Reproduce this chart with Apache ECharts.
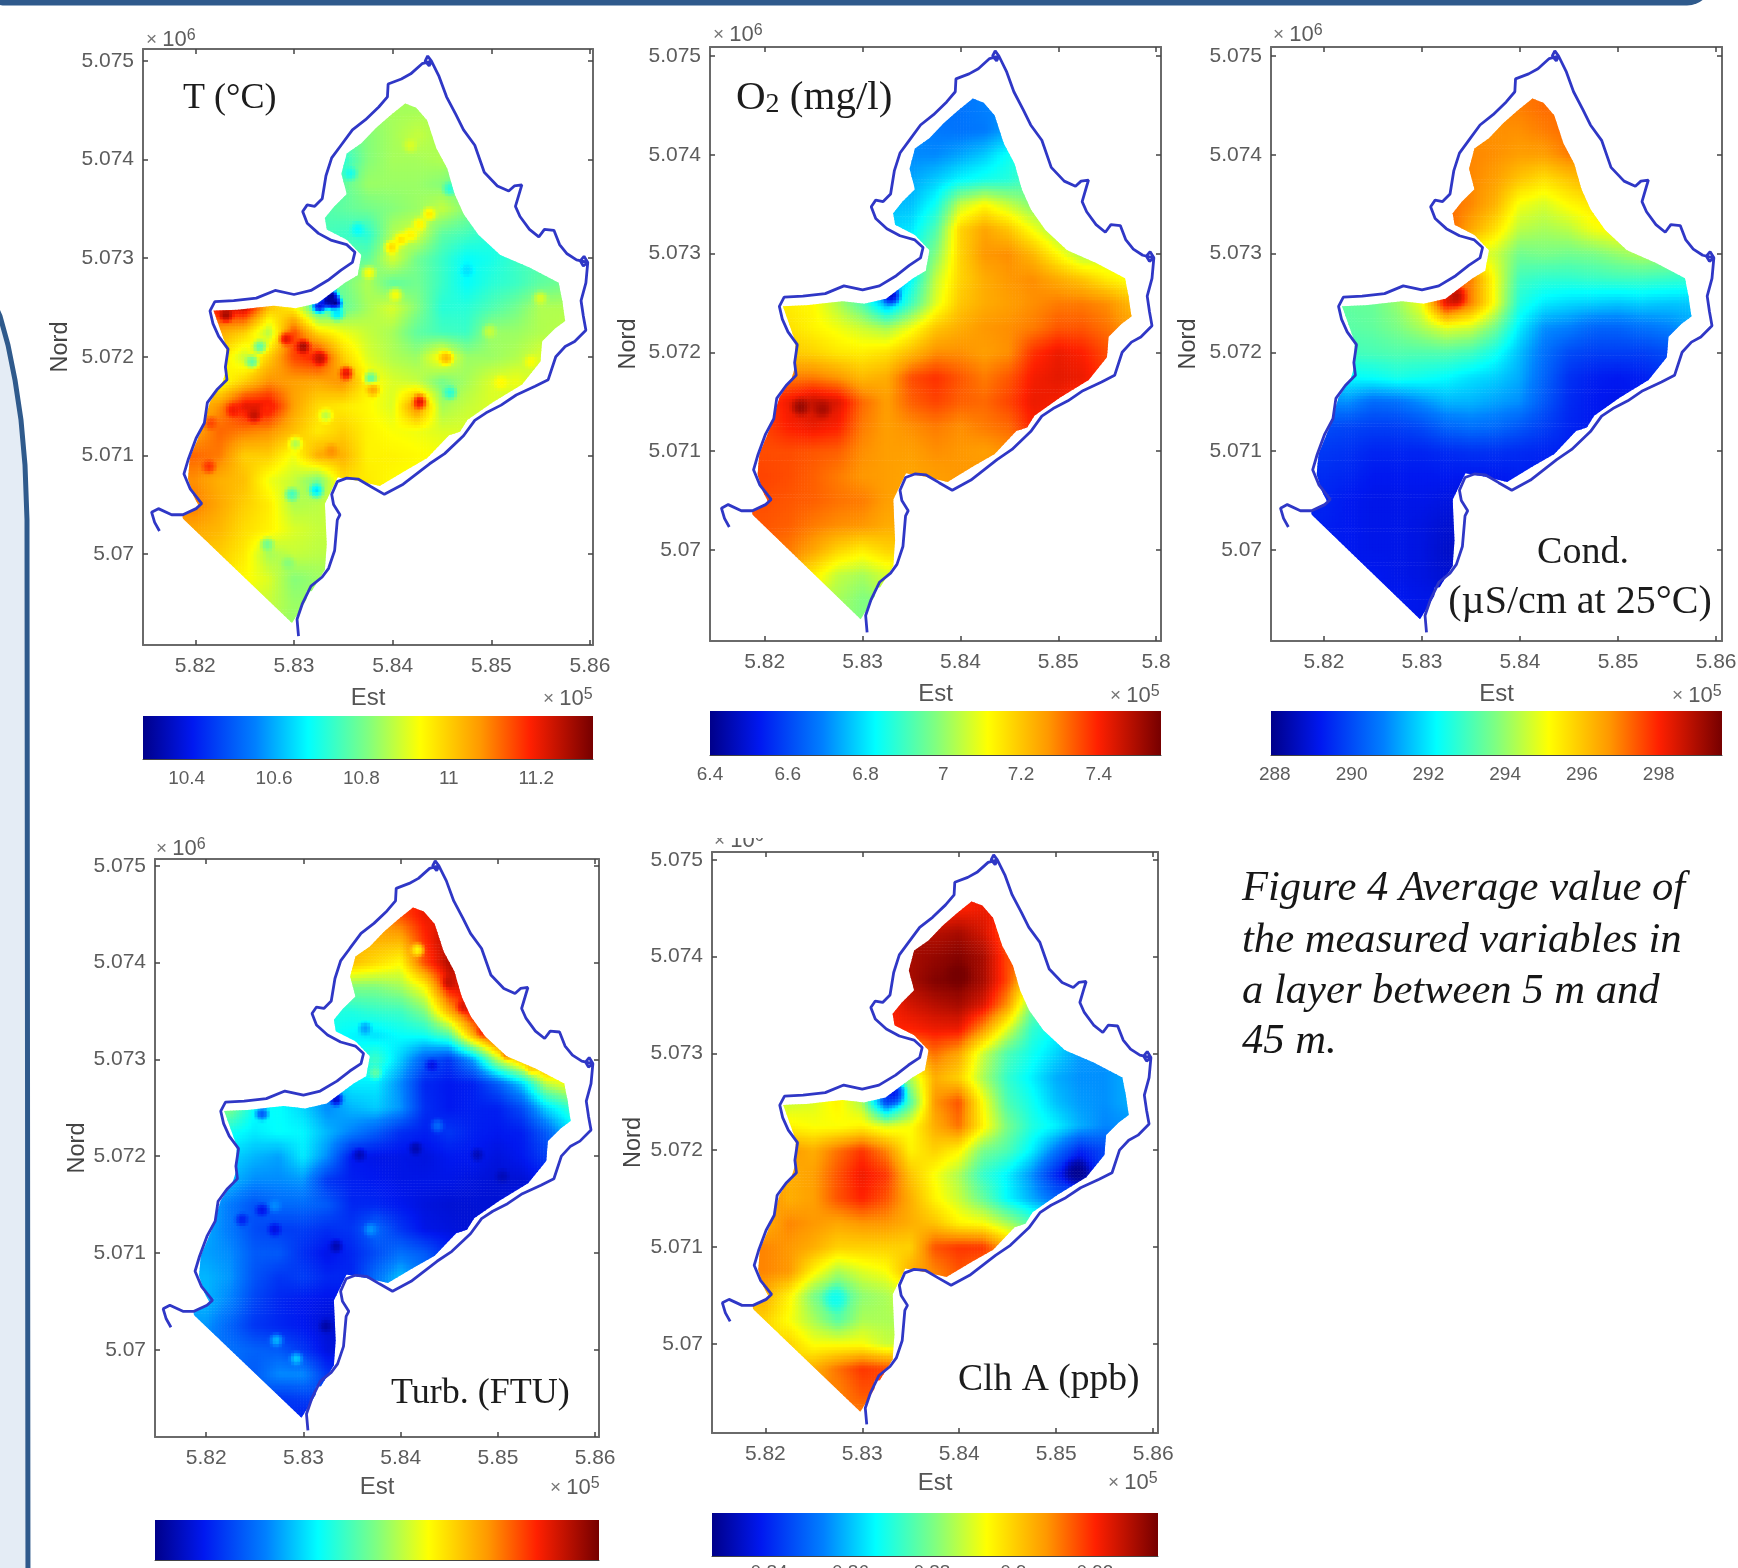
<!DOCTYPE html>
<html><head><meta charset="utf-8">
<style>html,body{margin:0;padding:0;background:#fff}#c{width:1738px;height:1568px;filter:blur(0.6px)}</style>
<script src="https://cdn.jsdelivr.net/npm/echarts@6/dist/echarts.min.js"></script>
</head><body><div id="c"></div>
<script>
// Offsets in metres from these bases
const eastBase = 580000, northBase = 5070000;
const cellStep = 250;

// Lake shoreline (offset metres)
const boundaryEast = [3046,3031,3084,3172,3286,3351,3412,3439,3466,3401,3382,3439,3534,3649,3782,3916,4107,4374,4527,4718,4832,4947,5099,5252,5443,5576,5653,5748,5844,5958,5932,5909,5958,5977,5939,5901,5932,5977,5863,5767,5691,5634,5538,5481,5386,5290,5244,5290,5309,5233,5176,5061,4928,4832,4718,4641,4546,4470,4393,4355,4329,4370,4393,4298,4183,4088,3954,3947,3859,3725,3592,3477,3382,3324,3286,3210,3134,3088,3134,3248,3382,3534,3618,3592,3477,3344,3172,3000,2809,2618,2389,2198,2149,2179,2237,2332,2305,2321,2218,2122,2092,2008,1931,1885,1950,2065,2008,1874,1760,1626,1557,1588,1637];
const boundaryNorth = [-832,-662,-507,-326,-233,-145,36,346,398,501,605,734,770,760,682,605,708,915,1018,1199,1355,1432,1510,1613,1701,1768,2001,2104,2156,2270,2414,2569,2750,2957,3019,2973,2921,2957,2983,3045,3138,3283,3293,3216,3293,3423,3526,3681,3743,3733,3681,3733,3872,4146,4301,4457,4637,4844,4999,5051,4999,4950,4999,4973,4870,4818,4767,4637,4534,4405,4301,4146,4017,3836,3603,3526,3541,3474,3355,3252,3180,3138,3061,2957,2880,2776,2673,2632,2673,2595,2569,2559,2466,2337,2208,2078,1897,1768,1665,1535,1329,1174,967,812,657,512,460,398,398,460,424,321,233];

// Outline of the interpolated area (offset metres)
const areaEast = [2980,3313,3332,3313,3443,3646,3868,4127,4350,4571,4682,4756,5015,5311,5497,5515,5645,5748,5718,5682,5386,5090,4868,4720,4627,4553,4442,4350,4238,4127,3979,3831,3683,3535,3480,3535,3406,3313,3332,3535,3683,3646,3517,3240,3017,2796,2425,2185,2240,2314,2314,2278,2148,2074,1945,1926,1982,2037,1852];
const areaNorth = [-700,-160,98,510,778,742,690,845,973,1205,1241,1360,1540,1720,1952,2158,2287,2364,2570,2750,2905,3033,3239,3445,3651,3909,4115,4398,4527,4568,4450,4320,4166,4063,3857,3651,3523,3409,3291,3188,3033,2827,2750,2544,2493,2518,2478,2467,2312,2106,1875,1746,1540,1282,973,767,587,484,381];

// Reading grid: one row per northing, first easting of the row
const gridNorth = [4500,4250,4000,3750,3500,3250,3000,2750,2500,2250,2000,1750,1500,1250,1000,750,500,250,0,-250,-500,-750];
const gridEastStart = [3750,3500,3500,3500,3250,3250,3500,3250,2250,2250,2250,2250,2000,2000,2000,2000,2000,2000,2250,2500,2750,3000];

const tempRows = [
[10.83,10.85,10.85],
[10.78,10.82,10.85,10.88,10.85],
[10.72,10.82,10.85,10.85,10.86],
[10.78,10.84,10.84,10.84,10.82,10.78],
[10.76,10.78,10.8,10.82,10.84,10.88,10.82],
[10.76,10.74,10.72,10.86,10.9,10.78,10.75,10.72],
[10.78,10.78,10.9,10.8,10.74,10.68,10.7,10.74,10.76],
[10.82,10.8,10.86,10.78,10.8,10.74,10.68,10.72,10.74,10.78,10.8],
[11.2,11.25,11.02,10.95,10.72,10.78,10.85,10.9,10.82,10.72,10.72,10.76,10.8,10.86,10.86],
[11.05,11.0,10.86,11.15,10.98,10.92,10.88,10.85,10.78,10.75,10.74,10.84,10.84,10.86,10.87],
[10.98,10.88,11.0,11.15,11.2,11.0,10.9,10.86,10.84,10.95,10.84,10.84,10.86,10.9],
[10.92,11.0,11.08,11.06,11.05,11.08,10.95,10.9,10.88,10.8,10.85,10.9,10.92,10.88],
[11.0,11.08,11.22,11.22,11.06,10.98,10.96,10.94,10.9,11.1,10.85,10.88,10.9,10.88],
[11.05,11.12,11.1,11.08,11.02,10.96,11.0,10.95,10.93,10.92,10.9,10.9,10.88],
[11.12,11.1,11.0,11.0,10.92,11.05,11.04,10.95,10.95,10.94,10.93,10.92],
[11.08,11.04,11.02,10.92,10.88,10.8,10.98,10.96,10.94,10.93],
[11.1,11.05,11.0,10.96,10.86,10.87,10.9],
[11.05,11.03,10.98,10.95,10.9,10.88],
[11.0,10.96,10.85,10.88,10.87],
[10.94,10.9,10.82,10.84],
[10.88,10.84],
[10.84]];
const tempSpots = [[3260,2520,10.4],[3380,2620,10.3],[3344,2570,10.32],[3420,2544,10.3],[3439,2440,10.65],[3992,3112,10.98],[4088,3190,10.97],[4183,3241,10.95],[4279,3345,10.95],[4374,3448,10.96],[3763,2854,10.93],[4031,2632,10.93],[4546,1990,11.03],[4279,1546,11.22],[5500,2595,10.9],[5405,1949,10.93],[5099,1742,10.94],[4985,2259,10.88],[4756,2880,10.65],[4584,1639,10.72],[3782,1784,10.78],[3229,646,10.65],[2981,605,10.75],[2657,2104,10.78],[2580,1949,10.78],[2733,98,10.8],[2943,-93,10.82],[3572,3862,10.7],[3649,3293,10.68],[4584,3707,10.72],[2924,2182,11.22],[3096,2104,11.28],[3268,1985,11.25],[3534,1835,11.22],[3803,1665,11.05],[2389,1458,11.2],[2600,1406,11.25],[2733,1484,11.18],[2141,889,11.17],[2160,1329,11.15],[3382,1044,11.08],[2313,2425,11.28],[3019,1122,10.86],[3325,1406,10.87],[4183,4146,10.9]];

const oxyRows = [
[6.66,6.67,6.69],
[6.7,6.68,6.67,6.68,6.73],
[6.7,6.7,6.73,6.77,6.84],
[6.73,6.77,6.82,6.85,6.87,6.92],
[6.75,6.76,6.84,7.05,7.12,7.05,6.98],
[6.78,6.8,6.92,7.18,7.25,7.2,7.1,7.0],
[6.85,6.98,7.18,7.27,7.28,7.22,7.12,7.02,7.04],
[6.68,6.82,7.05,7.18,7.24,7.27,7.28,7.24,7.2,7.14,7.1],
[7.14,7.12,7.03,6.92,6.72,6.9,7.08,7.2,7.24,7.26,7.28,7.3,7.3,7.28,7.22],
[7.16,7.13,7.1,7.06,7.02,7.1,7.2,7.24,7.27,7.28,7.3,7.34,7.34,7.31,7.26],
[7.2,7.18,7.15,7.14,7.16,7.22,7.28,7.28,7.26,7.28,7.38,7.42,7.4,7.35],
[7.3,7.3,7.27,7.22,7.24,7.35,7.38,7.34,7.3,7.34,7.41,7.43,7.42,7.37],
[7.35,7.42,7.47,7.44,7.32,7.26,7.33,7.36,7.33,7.32,7.36,7.42,7.41,7.37],
[7.36,7.4,7.42,7.4,7.3,7.26,7.28,7.3,7.28,7.3,7.32,7.4,7.38],
[7.35,7.35,7.34,7.33,7.28,7.26,7.26,7.28,7.27,7.26,7.28,7.3],
[7.36,7.35,7.33,7.3,7.27,7.26,7.25,7.26,7.27,7.27],
[7.35,7.34,7.33,7.31,7.3,7.26,7.25],
[7.34,7.33,7.3,7.28,7.27,7.24],
[7.3,7.25,7.18,7.14,7.18],
[7.14,7.05,7.02,7.07],
[7.02,6.98],
[6.98]];
const oxySpots = [[3295,2580,6.48],[2370,1447,7.52],[2592,1426,7.5]];

const condRows = [
[296.9,297.0,297.2],
[296.8,296.8,296.8,297.0,297.2],
[296.9,296.8,296.6,296.6,297.0],
[296.9,296.6,296.0,295.6,296.0,296.4],
[297.2,296.9,296.3,295.0,294.7,295.2,295.5],
[297.4,296.5,295.6,294.4,294.2,294.4,295,295.3],
[295,294.6,293.6,293.7,293.6,293.7,294,294.3,294.2],
[297,297,295,293,292.8,292.8,292.9,293,293,292.9,292.8],
[293.4,293.5,294,295,298.4,297,295,292.6,292,291.8,291.7,291.6,291.7,291.6,291.6],
[293.3,293.4,293.7,294.2,294.8,294.6,293.6,292,291,290.8,290.4,290.4,290.6,290.8,291.2],
[293,293.1,293.2,293.2,293.2,293,292.4,291.5,290.6,290,289.8,289.8,289.8,290],
[292.2,292.3,292.5,292.4,292.2,291.9,291.7,291.3,290.4,289.6,289.3,289.2,289.3,289.6],
[291,291,290.5,290.6,291,291.4,291.4,291.2,291,290.2,289.5,289.2,289.1,289.2],
[290,289.9,289.8,289.8,290,290.4,290.6,290.5,290.2,289.8,289.4,289.2,289.2],
[289.7,289.6,289.4,289.4,289.4,289.5,289.6,289.6,289.5,289.4,289.3,289.2],
[289.5,289.4,289.2,289.2,289.2,289.2,289.2,289.2,289.3,289.2],
[289.4,289.2,289.1,289.1,289.1,289.0,288.9],
[289.3,289.2,289.1,289.1,289.0,288.8],
[289.2,289.1,289.1,289,288.7],
[289.2,289.1,289,288.8],
[289.2,289.1],
[289.1]];
const condSpots = [[3350,2570,298.8]];

// Turbidity: tick labels are cut off in the picture, so levels are read on a 0-1 colour bar
const turbRows = [
[.75,.82,.88],
[.72,.72,.72,.85,.94],
[.7,.66,.62,.82,.94],
[.5,.5,.53,.62,.88,.92],
[.4,.4,.42,.43,.5,.72,.9],
[.38,.36,.34,.37,.38,.45,.72,.9],
[.38,.43,.32,.2,.15,.28,.55,.72,.85],
[.3,.35,.35,.26,.13,.11,.12,.2,.32,.55,.62],
[.5,.37,.37,.33,.26,.3,.32,.27,.14,.11,.12,.12,.18,.33,.42],
[.38,.35,.37,.36,.3,.25,.2,.14,.12,.15,.12,.11,.12,.2,.33],
[.33,.3,.28,.35,.26,.11,.1,.1,.09,.11,.11,.09,.11,.16],
[.3,.26,.26,.27,.15,.12,.11,.1,.1,.1,.09,.08,.08,.11],
[.3,.24,.19,.22,.22,.2,.13,.13,.11,.09,.08,.08,.08,.1],
[.29,.24,.18,.16,.16,.14,.15,.22,.15,.1,.09,.08,.1],
[.28,.26,.2,.2,.14,.1,.13,.18,.23,.2,.13,.11],
[.3,.27,.19,.15,.16,.13,.13,.23,.31,.24],
[.3,.25,.17,.13,.11,.1,.1],
[.27,.21,.15,.13,.11,.08],
[.23,.21,.2,.15,.09],
[.2,.26,.26,.15],
[.15,.16],
[.11]];
const turbSpots = [[3339,2590,.06],[2577,2440,.2],[3637,3321,.28],[4158,2081,.04],[4790,2017,.05],[5050,1793,.05],[3581,2017,.05],[3339,1071,.04],[3235,249,.03],[2725,100,.3],[2930,-90,.32],[2707,1494,.26],[3693,1245,.27],[2707,1245,.09],[2577,1444,.1],[2372,1345,.12],[4176,4133,.62],[3742,2864,.46],[4325,2938,.09],[4381,2316,.22],[4500,3800,.92],[4650,3550,.9],[4850,3300,.86],[5100,3070,.8],[5350,2920,.68]];

const chlaRows = [
[.918,.92,.922],
[.93,.928,.93,.925,.914],
[.93,.932,.934,.93,.916],
[.93,.934,.935,.93,.916,.895],
[.92,.925,.928,.93,.924,.908,.88],
[.92,.92,.922,.922,.908,.89,.872,.866],
[.905,.912,.906,.888,.875,.868,.862,.856,.855],
[.87,.885,.905,.9,.885,.872,.865,.858,.855,.855,.858],
[.888,.89,.895,.885,.845,.875,.908,.915,.893,.875,.868,.86,.856,.855,.858],
[.895,.893,.893,.895,.89,.893,.905,.912,.895,.88,.87,.865,.858,.854,.855],
[.908,.905,.912,.918,.91,.895,.9,.895,.88,.875,.865,.852,.84,.845],
[.905,.907,.915,.922,.918,.902,.893,.885,.872,.865,.855,.84,.828,.845],
[.91,.905,.907,.915,.92,.915,.905,.895,.888,.878,.866,.858,.85,.85],
[.905,.91,.908,.906,.908,.908,.905,.902,.895,.893,.885,.875,.87],
[.91,.908,.905,.9,.9,.9,.9,.915,.918,.918,.905,.89],
[.91,.908,.895,.885,.89,.893,.905,.91,.915,.912],
[.905,.895,.88,.872,.882,.885,.89],
[.9,.893,.885,.876,.885,.885],
[.9,.893,.893,.893,.888],
[.905,.912,.918,.916],
[.91,.915],
[.91]];
const chlaSpots = [[3321,2599,.838],[5218,1780,.827],[2725,466,.868],[3990,3814,.9355]];

const eastTicks = [582000,583000,584000,585000,586000];
const northTicks = [5070000,5071000,5072000,5073000,5074000,5075000];
const tempTicks = [10.4,10.6,10.8,11,11.2];
const oxyTicks = [6.4,6.6,6.8,7,7.2,7.4];
const condTicks = [288,290,292,294,296,298];
const chlaTicks = [.84,.86,.88,.9,.92];

const jetStops = [[0,'#00008a'],[.11,'#0018f0'],[.25,'#0080ff'],[.367,'#00ffff'],[.5,'#80ff80'],[.616,'#ffff00'],[.75,'#ff9800'],[.86,'#ff2000'],[1,'#760000']];
function jet(t){
  t=Math.max(0,Math.min(1,t));
  for(let i=1;i<jetStops.length;i++){
    if(t<=jetStops[i][0]){
      const a=jetStops[i-1],b=jetStops[i];
      return echarts.color.lerp((t-a[0])/(b[0]-a[0]),[a[1],b[1]]);
    }
  }
  return jetStops[jetStops.length-1][1];
}

const SANS='"Liberation Sans",Arial,sans-serif', SERIF='"Liberation Serif",serif', GREY='#5c5c5c';

const panels = [
 {name:'T',rows:tempRows,spots:tempSpots,spotR:105,sub:8,range:[10.3,11.33],ticks:tempTicks,nordGap:70,estGap:41,barGap:10,
  g:[143,49,450,596],xr:[581470,586030],yr:[5069077,5075122],bar:[143,716,450,43],lastX:'5.86'},
 {name:'O2',rows:oxyRows,spots:oxySpots,spotR:130,sub:8,range:[6.4,7.56],ticks:oxyTicks,nordGap:69,estGap:41,barGap:10,
  g:[710,47,451,594],xr:[581440,586050],yr:[5069080,5075090],bar:[710,711,451,44],lastX:'5.8'},
 {name:'Cond',rows:condRows,spots:condSpots,spotR:150,sub:8,range:[287.9,299.65],ticks:condTicks,nordGap:70,estGap:41,barGap:10,
  g:[1271,47,451,594],xr:[581460,586060],yr:[5069080,5075090],bar:[1271,711,451,44],lastX:'5.86'},
 {name:'Turb',rows:turbRows,spots:turbSpots,spotR:100,sub:8,range:[0,1],ticks:[],nordGap:65,estGap:38,barGap:10,
  g:[155,859,444,578],xr:[581473,586040],yr:[5069100,5075070],bar:[155,1520,444,40],lastX:'5.86'},
 {name:'Chla',rows:chlaRows,spots:chlaSpots,spotR:180,sub:8,range:[.826,.9355],ticks:chlaTicks,nordGap:66,estGap:38,barGap:7,
  g:[712,852,446,581],xr:[581450,586050],yr:[5069080,5075080],bar:[712,1513,446,43],lastX:'5.86'}
];

function buildLookup(p){
  const m=new Map(); p.cells=[];
  p.rows.forEach((row,j)=>row.forEach((v,i)=>{
    const e=gridEastStart[j]+i*cellStep,n=gridNorth[j];
    m.set(e+'|'+n,v); p.cells.push([eastBase+e,northBase+n,v]);
  }));
  p.lookup=m;
}
function field(p,e,n){
  const i0=Math.floor(e/cellStep)*cellStep,j0=Math.floor(n/cellStep)*cellStep;
  const fx=(e-i0)/cellStep,fy=(n-j0)/cellStep;
  const corners=[[i0,j0,(1-fx)*(1-fy)],[i0+cellStep,j0,fx*(1-fy)],[i0,j0+cellStep,(1-fx)*fy],[i0+cellStep,j0+cellStep,fx*fy]];
  let s=0,w=0;
  corners.forEach(c=>{const v=p.lookup.get(c[0]+'|'+c[1]); if(v!==undefined){s+=v*c[2];w+=c[2];}});
  let val=w>0?s/w:null;
  if(val===null) return null;
  for(const sp of p.spots){
    const dx=sp[0]-e,dy=sp[1]-n,d2=(dx*dx+dy*dy)/(p.spotR*p.spotR);
    if(d2<1){const k=(1-d2)*(1-d2); val=val+(sp[2]-val)*k;}
  }
  return val;
}

const grids=[],xAxes=[],yAxes=[],series=[];
const axisLine={show:true,lineStyle:{color:'#6a6a6a',width:2}};
const tickStyle={color:'#444',width:1.5};
panels.forEach((p,idx)=>{
  buildLookup(p);
  const gi=grids.length;
  grids.push({left:p.g[0],top:p.g[1],width:p.g[2],height:p.g[3],outerBoundsMode:'none'});
  const xB=xAxes.length;
  xAxes.push({type:'value',gridIndex:gi,position:'bottom',min:p.xr[0],max:p.xr[1],splitLine:{show:false},axisLine,
    axisTick:{show:true,inside:true,length:5,lineStyle:tickStyle,customValues:eastTicks},
    axisLabel:{show:true,customValues:eastTicks,margin:11,fontFamily:SANS,fontSize:21,color:GREY,hideOverlap:false,showMinLabel:true,showMaxLabel:true,
      formatter:v=>v===586000?p.lastX:String(+(v/1e5).toFixed(2))},
    name:'Est',nameLocation:'middle',nameGap:p.estGap,nameTextStyle:{fontFamily:SANS,fontSize:24,color:'#555'}});
  xAxes.push({type:'value',gridIndex:gi,position:'top',min:p.xr[0],max:p.xr[1],splitLine:{show:false},axisLine,
    axisTick:{show:true,inside:true,length:5,lineStyle:tickStyle,customValues:eastTicks},axisLabel:{show:false}});
  const yL=yAxes.length;
  yAxes.push({type:'value',gridIndex:gi,position:'left',min:p.yr[0],max:p.yr[1],splitLine:{show:false},axisLine,
    axisTick:{show:true,inside:true,length:5,lineStyle:tickStyle,customValues:northTicks},
    axisLabel:{show:true,customValues:northTicks,margin:9,fontFamily:SANS,fontSize:21,color:GREY,hideOverlap:false,
      formatter:v=>String(+(v/1e6).toFixed(3))},
    name:'Nord',nameLocation:'middle',nameGap:p.nordGap,nameTextStyle:{fontFamily:SANS,fontSize:23.5,color:'#444'}});
  yAxes.push({type:'value',gridIndex:gi,position:'right',min:p.yr[0],max:p.yr[1],splitLine:{show:false},axisLine,
    axisTick:{show:true,inside:true,length:5,lineStyle:tickStyle,customValues:northTicks},axisLabel:{show:false}});

  let clipPts=null;
  const span=p.range[1]-p.range[0];
  series.push({type:'custom',xAxisIndex:xB,yAxisIndex:yL,silent:true,animation:false,progressive:0,clip:false,
    data:p.cells,encode:{x:0,y:1},
    renderItem(params,api){
      if(!clipPts){clipPts=areaEast.map((e,i)=>api.coord([eastBase+e,northBase+areaNorth[i]]));}
      const E=api.value(0)-eastBase,N=api.value(1)-northBase,n=p.sub,d=cellStep/n,kids=[];
      for(let a=0;a<n;a++)for(let b=0;b<n;b++){
        const e0=E-cellStep/2+a*d,n0=N-cellStep/2+b*d;
        const v=field(p,e0+d/2,n0+d/2);
        if(v===null)continue;
        const c0=api.coord([eastBase+e0,northBase+n0+d]),c1=api.coord([eastBase+e0+d,northBase+n0]);
        kids.push({type:'rect',silent:true,shape:{x:c0[0]-.3,y:c0[1]-.3,width:c1[0]-c0[0]+.6,height:c1[1]-c0[1]+.6},
          style:{fill:jet((v-p.range[0])/span)}});
      }
      return {type:'group',silent:true,clipPath:{type:'polygon',shape:{points:clipPts}},children:kids};
    }});
  series.push({type:'line',xAxisIndex:xB,yAxisIndex:yL,silent:true,animation:false,symbol:'none',z:5,
    data:boundaryEast.map((e,i)=>[eastBase+e,northBase+boundaryNorth[i]]),
    lineStyle:{color:'#2f37c6',width:2.8}});

  // colour bar
  const bi=grids.length;
  grids.push({left:p.bar[0],top:p.bar[1],width:p.bar[2],height:p.bar[3],outerBoundsMode:'none'});
  const xC=xAxes.length,yC=yAxes.length;
  xAxes.push({type:'value',gridIndex:bi,position:'bottom',min:p.range[0],max:p.range[1],splitLine:{show:false},
    axisLine:{show:true,lineStyle:{color:'#444',width:1}},
    axisTick:{show:p.ticks.length>0,inside:true,length:3,lineStyle:{color:'#333'},customValues:p.ticks},
    axisLabel:{show:p.ticks.length>0,customValues:p.ticks,margin:p.barGap,fontFamily:SANS,fontSize:19,color:GREY,hideOverlap:false,formatter:v=>String(v)}});
  yAxes.push({type:'value',gridIndex:bi,min:0,max:1,show:false});
  series.push({type:'custom',xAxisIndex:xC,yAxisIndex:yC,silent:true,animation:false,clip:true,
    data:[[p.range[0],p.range[1]]],encode:{x:[0,1]},
    renderItem(params,api){
      const a=api.coord([api.value(0),1]),b=api.coord([api.value(1),0]);
      return {type:'rect',shape:{x:a[0],y:a[1],width:b[0]-a[0],height:b[1]-a[1]},
        style:{fill:new echarts.graphic.LinearGradient(0,0,1,0,jetStops.map(s=>({offset:s[0],color:s[1]})))}};
    }});
});

function multiplier(x,y,exp){
  return {type:'text',z:20,silent:true,style:{x,y,verticalAlign:'middle',align:'left',text:'{a|× }{b|10}{c|'+exp+'}',
    rich:{a:{fontFamily:SANS,fontSize:19,fill:'#777',color:'#777'},b:{fontFamily:SANS,fontSize:22,fill:GREY,color:GREY},c:{fontFamily:SANS,fontSize:16,fill:GREY,color:GREY,verticalAlign:'top',lineHeight:24}}}};
}
function title(x,y,text,size){
  return {type:'text',z:20,silent:true,style:{x,y,verticalAlign:'middle',align:'left',text,fontFamily:SERIF,fontSize:size||36,fill:'#1c1c1c'}};
}
function caption(y,text){
  return {type:'text',z:20,silent:true,style:{x:1242,y,verticalAlign:'middle',align:'left',text,fontFamily:SERIF,fontStyle:'italic',fontSize:42.6,fill:'#161616'}};
}
const graphics=[
 {type:'rect',z:0,silent:true,shape:{x:-20,y:-30,width:1732,height:35.5,r:[0,0,25,25]},style:{fill:'#2f5a8c'}},
 {type:'polygon',z:0,silent:true,shape:{points:[[-12,290],[0,316],[8,345],[15,380],[21,420],[25,465],[27,520],[28,1600],[-12,1600]]},style:{fill:'#e4ecf5',stroke:'#2f5a8c',lineWidth:5}},
 title(183,99,'T (°C)'),
 {type:'text',z:20,silent:true,style:{x:736,y:98,verticalAlign:'middle',align:'left',text:'{a|O}{s|2}{a| (mg/l)}',
   rich:{a:{fontFamily:SERIF,fontSize:41,fill:'#1c1c1c',color:'#1c1c1c'},s:{fontFamily:SERIF,fontSize:28,fill:'#1c1c1c',color:'#1c1c1c',verticalAlign:'bottom'}}}},
 {type:'text',z:20,silent:true,style:{x:1583,y:553,verticalAlign:'middle',align:'center',text:'Cond.',fontFamily:SERIF,fontSize:38,fill:'#1c1c1c'}},
 {type:'text',z:20,silent:true,style:{x:1580,y:602,verticalAlign:'middle',align:'center',text:'(µS/cm at 25°C)',fontFamily:SERIF,fontSize:40,fill:'#1c1c1c'}},
 title(391,1394,'Turb. (FTU)'),
 title(958,1380,'Clh A (ppb)',37.6),
 caption(889,'Figure 4 Average value of'),
 caption(941,'the measured variables in'),
 caption(992,'a layer between 5 m and'),
 caption(1042,'45 m.'),
 multiplier(146,40,'6'),multiplier(713,35,'6'),multiplier(1273,35,'6'),multiplier(156,849,'6'),multiplier(714,841,'6'),
 {type:'rect',z:21,silent:true,shape:{x:700,y:820,width:70,height:18},style:{fill:'#fff'}},
 multiplier(543,699,'5'),multiplier(1110,696,'5'),multiplier(1672,696,'5'),multiplier(550,1488,'5'),multiplier(1108,1483,'5')
];

const chart=echarts.init(document.getElementById('c'),null,{renderer:'canvas'});
chart.setOption({animation:false,backgroundColor:'#fff',grid:grids,xAxis:xAxes,yAxis:yAxes,series,graphic:graphics});
</script></body></html>
